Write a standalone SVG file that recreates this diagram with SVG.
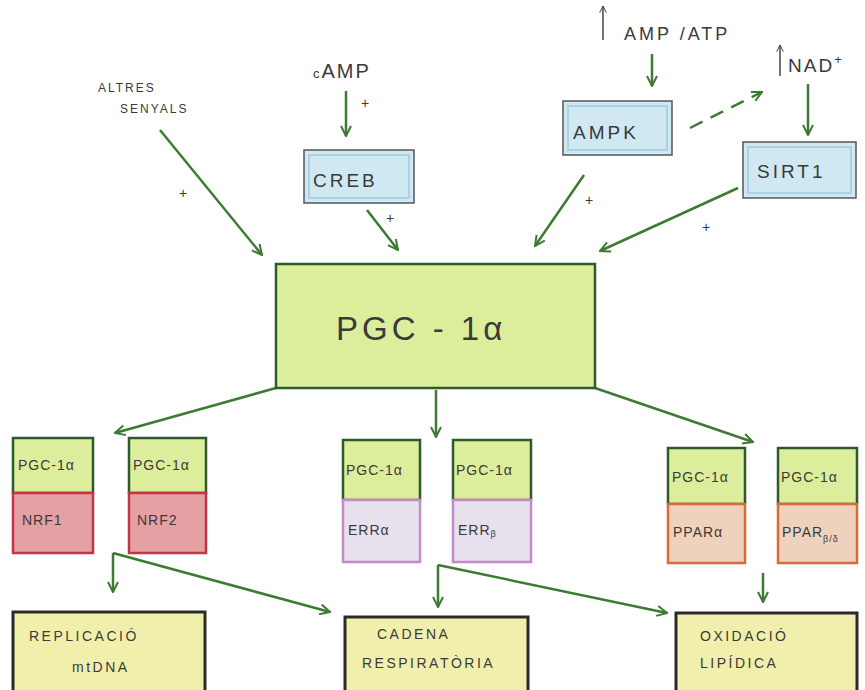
<svg xmlns="http://www.w3.org/2000/svg" width="865" height="690" viewBox="0 0 865 690">
<defs>
<marker id="ah" viewBox="0 0 12 12" refX="11" refY="6" markerWidth="12" markerHeight="12" markerUnits="userSpaceOnUse" orient="auto">
<path d="M1,1 L11,6 L1,11" fill="none" stroke="#3d7a33" stroke-width="2"/>
</marker>
<marker id="ahs" viewBox="0 0 12 12" refX="11" refY="6" markerWidth="8" markerHeight="8" markerUnits="userSpaceOnUse" orient="auto">
<path d="M1,1 L11,6 L1,11" fill="none" stroke="#444" stroke-width="1.5"/>
</marker>
</defs>
<style>
text{font-family:"Liberation Sans","DejaVu Sans",sans-serif;fill:#3a3a3a;}
.con{stroke:#3d7a33;stroke-width:2.5;fill:none;marker-end:url(#ah);}
.blue{fill:#cfe8f2;stroke:#555;stroke-width:1.5;}
.inner{fill:none;stroke:#a9d3e3;stroke-width:2;}
.pgc{fill:#dcee9c;stroke:#2f5a2f;stroke-width:2.5;}
.red{fill:#e5a0a3;stroke:#c23548;stroke-width:2.5;}
.pur{fill:#e8e0ec;stroke:#c58ac8;stroke-width:2.5;}
.ora{fill:#efd2bd;stroke:#d96a3a;stroke-width:2.5;}
.res{fill:#f0f0ac;stroke:#2a2a2a;stroke-width:3;}
.plus{font-size:14px;}
.sm{font-size:14px;letter-spacing:1px;}
.bt{font-size:14px;letter-spacing:2.5px;}
.bl{font-size:19px;letter-spacing:3px;}
</style>
<rect width="865" height="690" fill="#fff"/>

<g id="connectors">
<line class="con" x1="160" y1="130" x2="262" y2="255"/>
<line class="con" x1="346" y1="91" x2="346" y2="136"/>
<line class="con" x1="367" y1="210" x2="398" y2="250"/>
<line class="con" x1="652" y1="54" x2="652" y2="86"/>
<line class="con" x1="690" y1="128" x2="762" y2="92" stroke-dasharray="14,9"/>
<line class="con" x1="808" y1="84" x2="808" y2="135"/>
<line class="con" x1="584" y1="175" x2="535" y2="246"/>
<line class="con" x1="738" y1="188" x2="600" y2="251"/>
<line class="con" x1="276" y1="388" x2="115" y2="433"/>
<line class="con" x1="436" y1="390" x2="436" y2="437"/>
<line class="con" x1="595" y1="388" x2="753" y2="442"/>
<line class="con" x1="113" y1="553" x2="113" y2="592"/>
<line class="con" x1="113" y1="553" x2="330" y2="612"/>
<line class="con" x1="438" y1="565" x2="438" y2="607"/>
<line class="con" x1="438" y1="565" x2="667" y2="613"/>
<line class="con" x1="763" y1="573" x2="763" y2="602"/>
<line x1="603" y1="40" x2="603" y2="6" stroke="#444" stroke-width="1.5" marker-end="url(#ahs)"/>
<line x1="780" y1="76" x2="780" y2="45" stroke="#444" stroke-width="1.5" marker-end="url(#ahs)"/>
</g>

<g id="altres">
<text x="98" y="92" font-size="12" letter-spacing="2">ALTRES</text>
<text x="120" y="113" font-size="12" letter-spacing="2">SENYALS</text>
</g>
<g id="camp"><text x="313" y="78" font-size="20" letter-spacing="2"><tspan font-size="13">c</tspan>AMP</text></g>
<g id="ampatp"><text x="624" y="40" font-size="18" letter-spacing="3">AMP /ATP</text></g>
<g id="nad"><text x="788" y="72" font-size="19" letter-spacing="2">NAD<tspan font-size="13" dy="-8">+</tspan></text></g>

<g id="plus-signs">
<text class="plus" x="179" y="198">+</text>
<text class="plus" x="361" y="108">+</text>
<text class="plus" x="386" y="223">+</text>
<text class="plus" x="585" y="205">+</text>
<text class="plus" x="702" y="232">+</text>
</g>

<g id="creb">
<rect class="blue" x="304" y="150" width="110" height="53"/>
<rect class="inner" x="309" y="155" width="100" height="43"/>
<text class="bl" x="313" y="187">CREB</text>
</g>
<g id="ampk">
<rect class="blue" x="563" y="101" width="109" height="54"/>
<rect class="inner" x="568" y="106" width="99" height="44"/>
<text class="bl" x="573" y="139">AMPK</text>
</g>
<g id="sirt1">
<rect class="blue" x="743" y="142" width="113" height="56"/>
<rect class="inner" x="748" y="147" width="103" height="46"/>
<text class="bl" x="757" y="178">SIRT1</text>
</g>

<g id="pgc1a">
<rect class="pgc" x="276" y="264" width="319" height="124"/>
<text x="336" y="340" font-size="33" letter-spacing="4">PGC - 1α</text>
</g>

<g id="nrf1">
<rect class="pgc" x="13" y="438" width="80" height="55"/>
<text class="sm" x="18" y="470">PGC-1α</text>
<rect class="red" x="13" y="493" width="80" height="60"/>
<text class="sm" x="22" y="525">NRF1</text>
</g>
<g id="nrf2">
<rect class="pgc" x="129" y="438" width="77" height="55"/>
<text class="sm" x="133" y="470">PGC-1α</text>
<rect class="red" x="129" y="493" width="77" height="60"/>
<text class="sm" x="137" y="525">NRF2</text>
</g>

<g id="erra">
<rect class="pgc" x="343" y="440" width="77" height="60"/>
<text class="sm" x="346" y="475">PGC-1α</text>
<rect class="pur" x="343" y="500" width="77" height="62"/>
<text class="sm" x="348" y="535">ERRα</text>
</g>
<g id="errb">
<rect class="pgc" x="453" y="440" width="78" height="60"/>
<text class="sm" x="456" y="475">PGC-1α</text>
<rect class="pur" x="453" y="500" width="78" height="62"/>
<text class="sm" x="458" y="535">ERR<tspan font-size="9" dy="2">β</tspan></text>
</g>

<g id="ppara">
<rect class="pgc" x="668" y="448" width="77" height="56"/>
<text class="sm" x="672" y="482">PGC-1α</text>
<rect class="ora" x="668" y="504" width="77" height="59"/>
<text class="sm" x="673" y="537">PPARα</text>
</g>
<g id="pparbd">
<rect class="pgc" x="778" y="448" width="79" height="56"/>
<text class="sm" x="781" y="482">PGC-1α</text>
<rect class="ora" x="778" y="504" width="79" height="59"/>
<text class="sm" x="782" y="537">PPAR<tspan font-size="9" dy="5">β/δ</tspan></text>
</g>

<g id="replicacio">
<rect class="res" x="13" y="612" width="192" height="82"/>
<text class="bt" x="29" y="641">REPLICACIÓ</text>
<text class="bt" x="72" y="672">mtDNA</text>
</g>
<g id="cadena">
<rect class="res" x="345" y="617" width="183" height="77"/>
<text class="bt" x="377" y="639">CADENA</text>
<text class="bt" x="362" y="668">RESPIRATÒRIA</text>
</g>
<g id="oxidacio">
<rect class="res" x="676" y="613" width="181" height="81"/>
<text class="bt" x="700" y="641">OXIDACIÓ</text>
<text class="bt" x="700" y="668">LIPÍDICA</text>
</g>
</svg>
